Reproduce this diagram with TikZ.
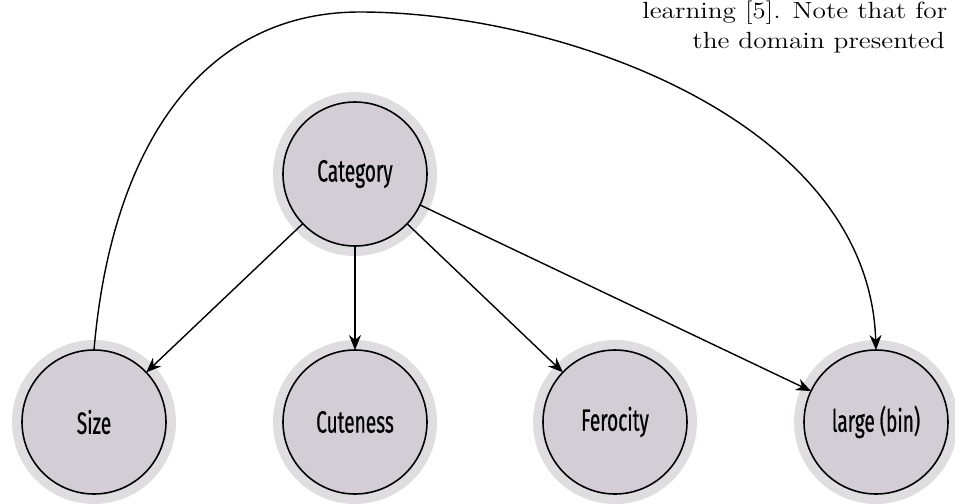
\documentclass[tikz,border=0pt]{standalone}
\usepackage{fontspec}
\newfontfamily\varfont[FakeStretch=0.62, FakeBold=0.6]{Fira Sans}
\newfontfamily\pagefont[FakeStretch=1.17]{Latin Modern Roman}
\usetikzlibrary{arrows.meta, positioning}
\definecolor{varfill}{RGB}{211,206,213}
\definecolor{varhalo}{RGB}{224,221,225}

\begin{document}
\begin{tikzpicture}[
  var/.style={circle, draw=black, line width=0.9pt, fill=varfill,
    minimum size=2.88cm, inner sep=0pt, outer sep=0pt,
    font=\varfont\fontsize{17.5}{19}\selectfont,
    preaction={draw=varhalo, line width=0.4cm}},
  pagetext/.style={anchor=base west, inner sep=0pt, font=\pagefont\fontsize{13.3}{15}\selectfont},
  link/.style={-{Stealth[length=0.3cm, width=0.24cm]}, line width=0.8pt},
  node distance=5.22cm, on grid]

\clip (0,0) rectangle (19.1,10.06);

\node[var] (category) at (7.1,6.58) {Category};
\node[var, below=4.96cm of category] (cuteness) {Cuteness};
\node[var, left=of cuteness] (size) {Size};
\node[var, right=5.2cm of cuteness] (ferocity) {Ferocity};
\node[var, right=of ferocity] (large) {large (bin)};

% page text above the figure
\node[pagetext] (line1) at (12.84,9.7) {learning [5].  Note that for};
\node[pagetext] (line2) at (13.84,9.1) {the domain presented};

\draw[link] (category) -- (size);
\draw[link] (category) -- (cuteness);
\draw[link] (category) -- (ferocity);
\draw[link] (category) -- (large);

\coordinate (arctop) at (7.2,9.82);
\draw[link] (size.north) .. controls +(0.34,4.0) and +(-3.2,0) .. (arctop)
  .. controls +(4.0,0) and +(-0.14,4.6) .. (large.north);

\end{tikzpicture}
\end{document}
